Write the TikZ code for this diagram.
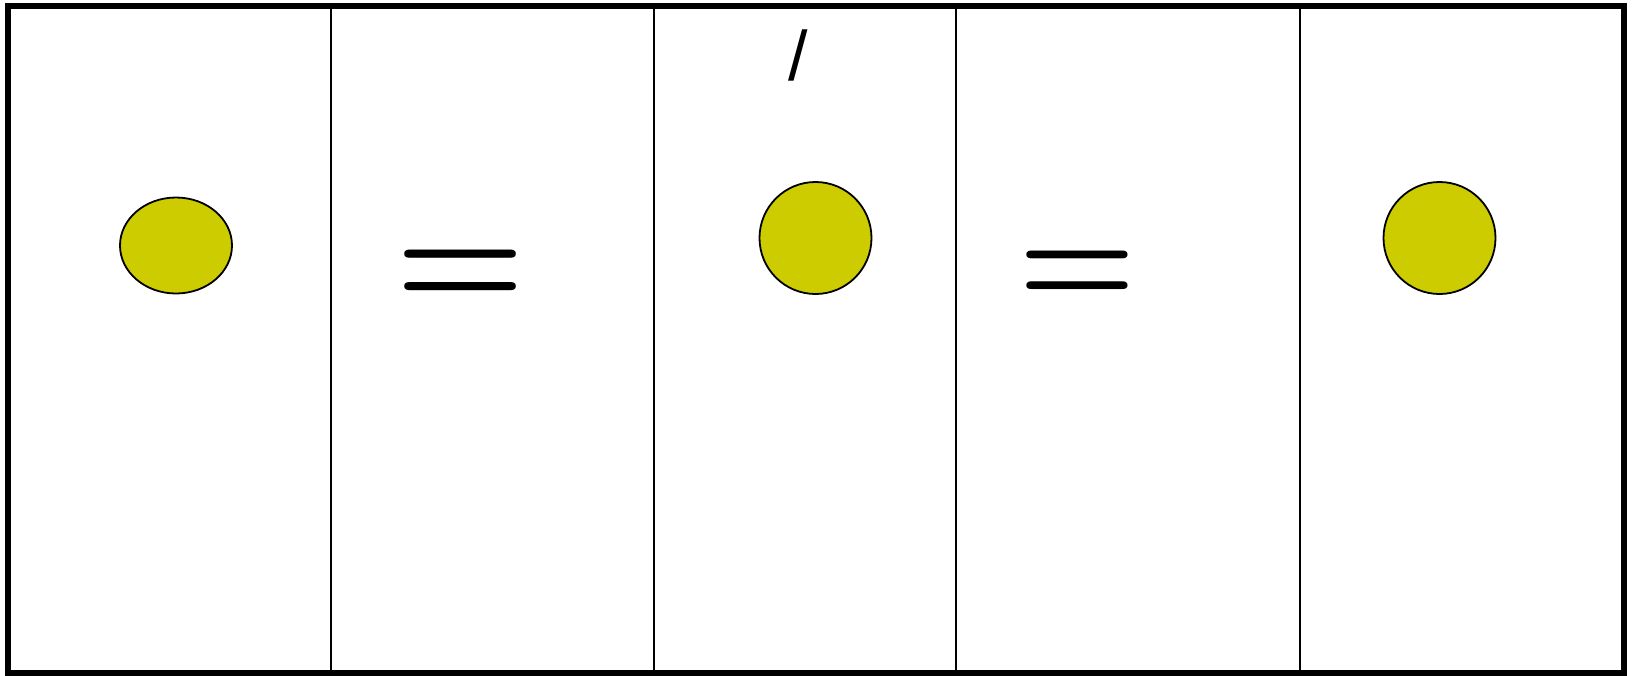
\documentclass[tikz,border=0pt]{standalone}
\usepackage{fontspec}
\newfontfamily\arialfont{Liberation Sans}
\definecolor{dotyellow}{RGB}{204,204,0}
\begin{document}
\begin{tikzpicture}[x=1pt,y=-1pt,
  dot/.style={draw=black,line width=1.8pt,fill=dotyellow},
  divider/.style={line width=2.6pt},
  eqsign/.style={inner sep=0pt,outer sep=0pt,font=\fontsize{155}{155}\selectfont\bfseries,anchor=center},
  slash/.style={inner sep=0pt,outer sep=0pt,font=\arialfont\fontsize{70}{70}\selectfont,anchor=base west}]
\useasboundingbox (0,0) rectangle (1633,675);
\draw[line width=6pt] (8,6) rectangle (1623.5,672.5);
\coordinate (t1) at (331,6); \coordinate (b1) at (331,672.5);
\coordinate (t2) at (654,6); \coordinate (b2) at (654,672.5);
\coordinate (t3) at (956,6); \coordinate (b3) at (956,672.5);
\coordinate (t4) at (1300,6); \coordinate (b4) at (1300,672.5);
\draw[divider] (t1) -- (b1);
\draw[divider] (t2) -- (b2);
\draw[divider] (t3) -- (b3);
\draw[divider] (t4) -- (b4);
\draw[dot] (176,245.5) ellipse [x radius=56, y radius=48];
\draw[dot] (815.5,238) circle [radius=56];
\draw[dot] (1439.5,238) circle [radius=56];
\node[eqsign,xscale=0.96,yscale=0.96,transform shape] (eq1) at (461,279) {=};
\node[eqsign,xscale=0.87,yscale=0.91,transform shape] (eq2) at (1077,278) {=};
\node[slash] (sl) at (788,80) {/};
\end{tikzpicture}
\end{document}
